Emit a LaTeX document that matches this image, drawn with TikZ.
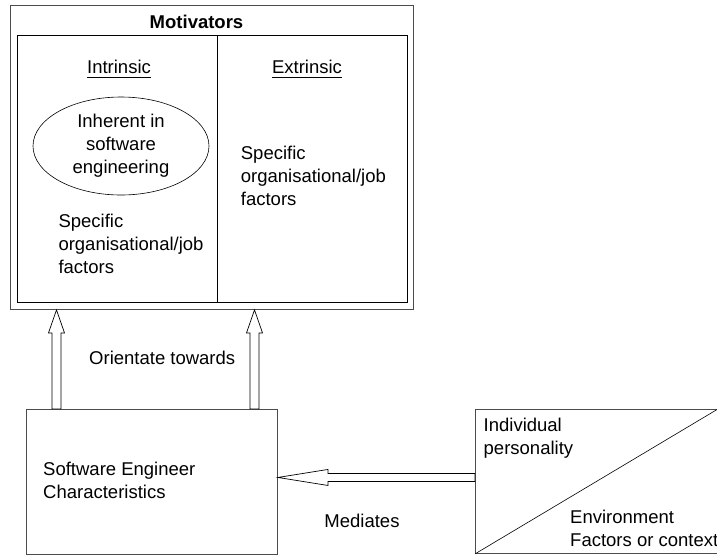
\documentclass[tikz,border=0pt]{standalone}
\usepackage{fontspec}
\setmainfont{Liberation Sans}
\usetikzlibrary{shapes.geometric,calc}
\newcommand\fs{\fontsize{18.5}{23}\selectfont}
\newcommand\leftlines[1]{\vtop{\halign{##\hfil\cr#1\crcr}}}
\newcommand\blockup[2]{%
  \draw[blockarrow] let \p1=(#1), \p2=(#2) in
    (\x1,\y2) -- (\x1+8pt,\y2-23pt) -- (\x1+4.5pt,\y2-23pt) -- (\x1+4.5pt,\y1)
    -- (\x1-4.5pt,\y1) -- (\x1-4.5pt,\y2-23pt) -- (\x1-8pt,\y2-23pt) -- cycle;}
\newcommand\blockleft[2]{%
  \draw[blockarrow] let \p1=(#1), \p2=(#2) in
    (\x2,\y1) -- (\x2+50pt,\y1+8pt) -- (\x2+50pt,\y1+4pt) -- (\x1,\y1+4pt)
    -- (\x1,\y1-4pt) -- (\x2+50pt,\y1-4pt) -- (\x2+50pt,\y1-8pt) -- cycle;}
\begin{document}
\begin{tikzpicture}[x=1pt,y=-1pt,
  every node/.style={font=\fs, inner sep=0pt},
  boxline/.style={draw=black!70, line width=0.9pt, rectangle, anchor=north west},
  innerline/.style={draw=black, line width=0.8pt},
  txt/.style={anchor=base west},
  ctxt/.style={anchor=base},
  blockarrow/.style={draw=black, line width=0.7pt, fill=white, line join=miter}]
\useasboundingbox (0,0) rectangle (717,555);
\clip (0,0) rectangle (717,555);

% Motivators frame
\node[boxline, minimum width=403, minimum height=304] (mot) at (10,5) {};
\node[innerline, rectangle, anchor=north west, minimum width=390, minimum height=267] (inner) at (17,35) {};
\draw[innerline] ([xshift=200pt]inner.north west) -- ([xshift=200pt]inner.south west);

\node[ctxt, font=\fs\bfseries] (motl) at (196.5,28.8) {Motivators};
\node[ctxt] (intr) at (119,73.5) {Intrinsic};
\node[ctxt] (extr) at (307,73.5) {Extrinsic};
\draw[line width=1.1pt] ([yshift=-4.3pt]intr.base west) -- ([yshift=-4.3pt]intr.base east);
\draw[line width=1.1pt] ([yshift=-4.3pt]extr.base west) -- ([yshift=-4.3pt]extr.base east);

\node[ellipse, draw, line width=0.6pt, minimum width=176, minimum height=98, align=center] (inh) at (121,146)
  {Inherent in\\software\\engineering};

\node[txt] (intspec) at (58.3,227.5) {\leftlines{Specific\cr organisational/job\cr factors}};
\node[txt] (extspec) at (240.7,159) {\leftlines{Specific\cr organisational/job\cr factors}};

% Software engineer box
\node[boxline, minimum width=251, minimum height=145] (se) at (26,409) {};
\node[txt] (sel) at (43,475) {\leftlines{Software Engineer\cr Characteristics}};

% Personality / environment box
\node[boxline, minimum width=245, minimum height=144] (rb) at (475,409) {};
\coordinate (dg) at ([xshift=-3pt]rb.north east);
\draw[line width=0.6pt] (rb.south west) -- (dg);
\node[txt] (ind) at (483.5,431.5) {\leftlines{Individual\cr personality}};
\node[txt] (env) at (570,523.5) {\leftlines{Environment\cr Factors or context}};

% arrows up
\coordinate (a1b) at ([xshift=30.5pt]se.north west);
\coordinate (a1t) at (a1b |- mot.south);
\coordinate (a2b) at ([xshift=228.5pt]se.north west);
\coordinate (a2t) at (a2b |- mot.south);
\blockup{a1b}{a1t}
\blockup{a2b}{a2t}
\node[txt] (ori) at (89,364) {Orientate towards};

% arrow left
\coordinate (hb) at ([yshift=4pt]rb.west);
\coordinate (ht) at (hb -| se.east);
\blockleft{hb}{ht}
\node[ctxt] (med) at (362,527) {Mediates};
\end{tikzpicture}
\end{document}
